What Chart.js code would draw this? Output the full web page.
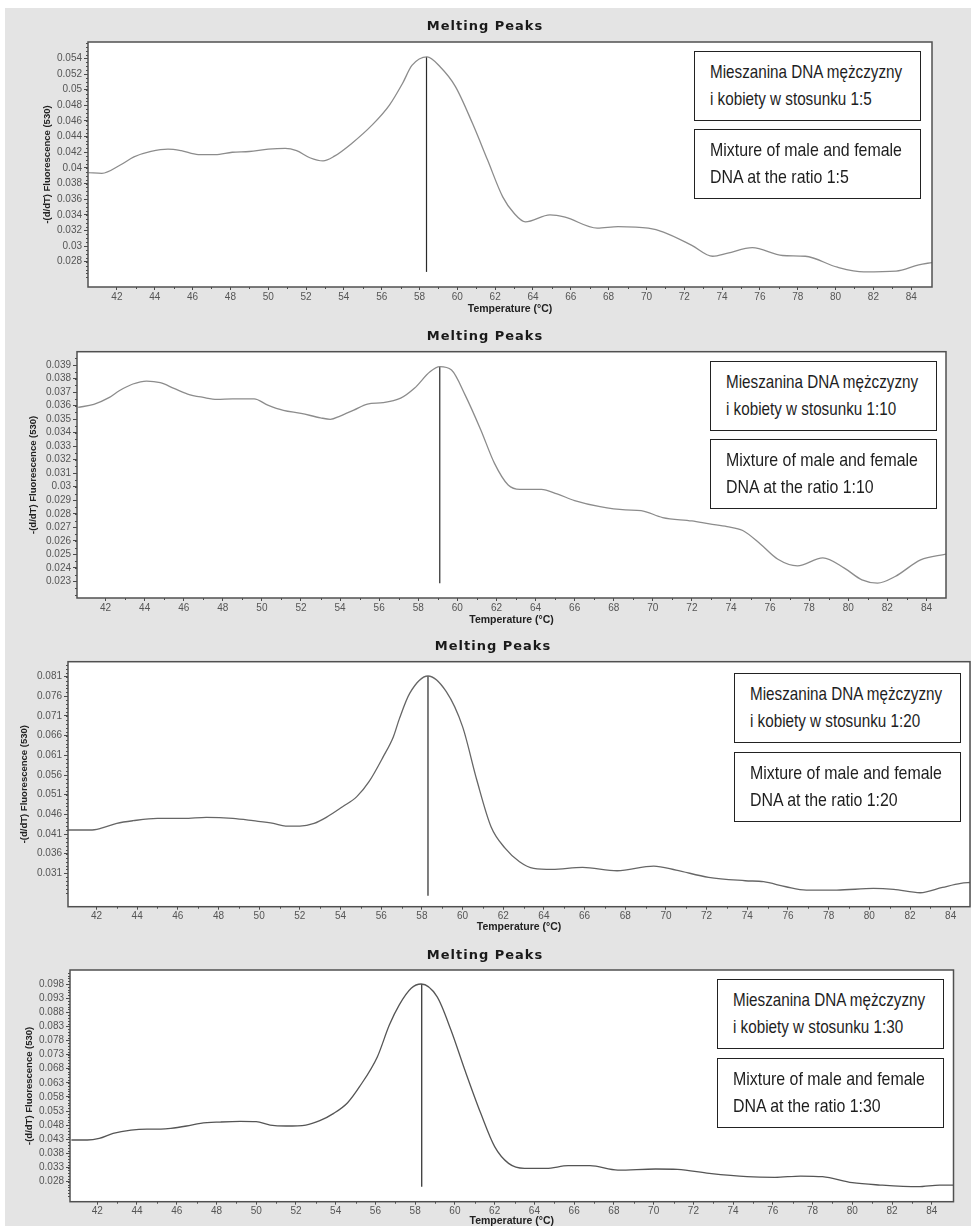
<!DOCTYPE html>
<html>
<head>
<meta charset="utf-8">
<script src="https://cdn.jsdelivr.net/npm/chart.js@4.4.1/dist/chart.umd.min.js"></script>
<style>
body { margin: 0; background: #fff; }
#page { position: relative; width: 971px; height: 1226px; overflow: hidden; }
#bg { position: absolute; left: 5px; top: 8px; right: 0; bottom: 0; background: #e4e4e4; }
canvas { position: absolute; left: 0; }
.note {
    position: absolute; width: 227px; height: 70px; box-sizing: border-box;
    border: 1.5px solid #222; background: #fff; color: #1e1e1e;
    font-family: "Liberation Sans", sans-serif;
    font-size: 18.5px; line-height: 26.7px; padding: 7px 0 0 15px; white-space: nowrap;
}
.note span { display: inline-block; transform-origin: 0 0; }
</style>
</head>
<body>
<div id="page">
  <div id="bg"></div>
  <canvas id="c1" width="971" height="318" style="top:0px"></canvas>
  <canvas id="c2" width="971" height="310" style="top:318px"></canvas>
  <canvas id="c3" width="971" height="310" style="top:628px"></canvas>
  <canvas id="c4" width="971" height="288" style="top:938px"></canvas>

  <div class="note" style="left:694px;top:51px"><span>Mieszanina DNA mężczyzny<br>i kobiety w stosunku 1:5</span></div>
  <div class="note" style="left:694px;top:129px"><span>Mixture of male and female<br>DNA at the ratio 1:5</span></div>
  <div class="note" style="left:710px;top:361px"><span>Mieszanina DNA mężczyzny<br>i kobiety w stosunku 1:10</span></div>
  <div class="note" style="left:710px;top:439px"><span>Mixture of male and female<br>DNA at the ratio 1:10</span></div>
  <div class="note" style="left:734px;top:673px"><span>Mieszanina DNA mężczyzny<br>i kobiety w stosunku 1:20</span></div>
  <div class="note" style="left:734px;top:752px"><span>Mixture of male and female<br>DNA at the ratio 1:20</span></div>
  <div class="note" style="left:717px;top:979px"><span>Mieszanina DNA mężczyzny<br>i kobiety w stosunku 1:30</span></div>
  <div class="note" style="left:717px;top:1058px"><span>Mixture of male and female<br>DNA at the ratio 1:30</span></div>
</div>
<script>
// shared x ticks (temperature)
const xTicks = [42, 44, 46, 48, 50, 52, 54, 56, 58, 60, 62, 64, 66, 68, 70, 72, 74, 76, 78, 80, 82, 84];

// panel 1 - ratio 1:5
const temps1 = [40.5, 41.2, 42.2, 42.9, 43.8, 44.7, 45.4, 46.3, 47.2, 48.1, 49.0, 50.0, 50.9, 51.5, 52.2, 52.9, 53.5, 54.4, 55.5, 56.4,
    57.1, 57.6, 58.4, 59.1, 59.9, 60.8, 61.6, 62.4, 63.0, 63.6, 64.9, 65.7, 67.4, 68.5, 70.1, 70.9, 72.4, 73.5, 74.3, 75.6,
    77.2, 78.4, 80.1, 81.5, 83.2, 84.4, 85.1];
const fluor1 = [0.0394, 0.0393, 0.0404, 0.0414, 0.0421, 0.0424, 0.0422, 0.0417, 0.0417, 0.0420, 0.0421, 0.0424, 0.0425, 0.0422, 0.0413, 0.0409, 0.0415, 0.0431, 0.0455, 0.0480,
    0.0508, 0.0531, 0.0542, 0.0529, 0.0504, 0.0457, 0.0410, 0.0363, 0.0342, 0.0331, 0.0340, 0.0337, 0.0323, 0.0325, 0.0323, 0.0318, 0.0301, 0.0287, 0.0291, 0.0298,
    0.0288, 0.0287, 0.0273, 0.0267, 0.0268, 0.0276, 0.0279];
const peak1 = [58.37, 0.0267, 0.0542]; // temp, line bottom, line top
const yTicks1 = [0.028, 0.030, 0.032, 0.034, 0.036, 0.038, 0.040, 0.042, 0.044, 0.046, 0.048, 0.050, 0.052, 0.054];

// panel 2 - ratio 1:10
const temps2 = [40.6, 41.4, 42.2, 42.7, 43.4, 44.1, 44.8, 45.5, 46.2, 47.0, 47.7, 48.5, 49.6, 50.3, 51.1, 52.0, 53.0, 53.5, 54.0, 54.7,
    55.4, 56.2, 57.1, 57.8, 58.6, 59.1, 59.7, 60.4, 61.2, 61.9, 62.6, 63.2, 64.3, 65.1, 66.0, 67.3, 68.6, 69.4, 70.5, 72.0,
    72.9, 73.8, 74.6, 75.5, 76.4, 77.4, 78.7, 79.8, 80.7, 81.5, 82.4, 83.7, 85.0];
const fluor2 = [0.03587, 0.0361, 0.03661, 0.0371, 0.0376, 0.03782, 0.0377, 0.03728, 0.03686, 0.03661, 0.03646, 0.0365, 0.0365, 0.03604, 0.03565, 0.03543, 0.0351, 0.03499, 0.03523, 0.03567,
    0.03612, 0.03622, 0.03655, 0.03728, 0.0385, 0.03888, 0.03863, 0.03678, 0.0342, 0.03173, 0.03013, 0.02981, 0.02981, 0.02947, 0.02898, 0.02853, 0.02829, 0.02824, 0.02772, 0.02747,
    0.02725, 0.02705, 0.02676, 0.02577, 0.02464, 0.02415, 0.02474, 0.02398, 0.02311, 0.02287, 0.02336, 0.02459, 0.02501];
const peak2 = [59.1, 0.02287, 0.03888];
const yTicks2 = [0.023, 0.024, 0.025, 0.026, 0.027, 0.028, 0.029, 0.030, 0.031, 0.032, 0.033, 0.034, 0.035, 0.036, 0.037, 0.038, 0.039];

// panel 3 - ratio 1:20
const temps3 = [40.6, 41.7, 42.2, 43.0, 43.8, 45.0, 46.3, 47.4, 48.7, 49.7, 50.7, 51.3, 52.0, 52.7, 53.3, 54.1, 54.8, 55.4, 56.1, 56.6,
    56.9, 57.4, 58.3, 59.2, 60.0, 60.7, 61.4, 62.1, 62.8, 63.5, 64.4, 65.9, 67.6, 69.4, 70.5, 72.1, 73.9, 74.8, 75.9, 76.9,
    78.4, 80.2, 81.2, 82.5, 83.6, 84.5, 85.0];
const fluor3 = [0.04202, 0.04202, 0.04244, 0.04371, 0.04439, 0.04498, 0.04498, 0.04524, 0.04498, 0.04439, 0.04371, 0.04303, 0.04303, 0.04371, 0.04524, 0.04795, 0.0505, 0.05431, 0.06066, 0.06575,
    0.0704, 0.07676, 0.08117, 0.07719, 0.06829, 0.05473, 0.04286, 0.03736, 0.03396, 0.03227, 0.03201, 0.03252, 0.03167, 0.03286, 0.03184, 0.02998, 0.02913, 0.02888, 0.0276, 0.02676,
    0.02676, 0.02718, 0.02693, 0.02608, 0.02744, 0.02845, 0.0287];
const peak3 = [58.3, 0.02534, 0.08117];
const yTicks3 = [0.031, 0.036, 0.041, 0.046, 0.051, 0.056, 0.061, 0.066, 0.071, 0.076, 0.081];

// panel 4 - ratio 1:30
const temps4 = [40.7, 41.5, 42.1, 42.8, 43.7, 44.5, 45.2, 45.7, 46.5, 47.2, 48.2, 49.2, 50.0, 50.7, 51.5, 52.5, 53.2, 53.9, 54.6, 55.2,
    56.1, 56.7, 57.2, 57.8, 58.3, 59.1, 59.8, 60.5, 61.3, 62.0, 62.7, 63.5, 64.6, 65.7, 66.8, 68.2, 70.1, 71.2, 72.8, 74.7,
    76.1, 77.4, 78.5, 80.0, 81.4, 83.3, 84.4, 85.1];
const fluor4 = [0.04276, 0.04276, 0.04335, 0.04512, 0.0463, 0.04665, 0.04665, 0.04689, 0.04772, 0.04866, 0.04913, 0.04937, 0.04925, 0.04807, 0.04772, 0.04807, 0.0496, 0.0522, 0.05598, 0.06164,
    0.07227, 0.08348, 0.0906, 0.09647, 0.098, 0.09351, 0.08171, 0.06754, 0.0522, 0.0404, 0.03449, 0.03272, 0.03272, 0.03367, 0.03367, 0.03213, 0.03249, 0.03237, 0.03095, 0.02977,
    0.02954, 0.03001, 0.02977, 0.02765, 0.02682, 0.02623, 0.02682, 0.02682];
const peak4 = [58.33, 0.02623, 0.098];
const yTicks4 = [0.028, 0.033, 0.038, 0.043, 0.048, 0.053, 0.058, 0.063, 0.068, 0.073, 0.078, 0.083, 0.088, 0.093, 0.098];

// white plot box, frame, minor ticks and the "Melting Peaks" heading
const framePlugin = {
    id: 'frame',
    beforeDraw(chart) {
        const a = chart.chartArea, ctx = chart.ctx;
        ctx.save();
        ctx.fillStyle = '#fff';
        ctx.fillRect(a.left, a.top, a.right - a.left, a.bottom - a.top);
        ctx.restore();
    },
    afterDraw(chart, args, opts) {
        const a = chart.chartArea, ctx = chart.ctx;
        const xs = chart.scales.x, ys = chart.scales.y;
        ctx.save();
        ctx.strokeStyle = '#4a4a4a';
        ctx.lineWidth = 1;
        // minor ticks on y
        const yt = opts.yTicks, step = (yt[1] - yt[0]) / opts.yMinor;
        ctx.beginPath();
        for (let v = yt[0] - step * opts.yMinor; v <= ys.max; v += step) {
            if (v < ys.min) continue;
            const py = Math.round(ys.getPixelForValue(v)) + 0.5;
            ctx.moveTo(a.left - 2, py);
            ctx.lineTo(a.left, py);
        }
        // minor ticks on x (half way)
        for (let i = 0; i < xTicks.length - 1; i++) {
            const px = Math.round(xs.getPixelForValue((xTicks[i] + xTicks[i + 1]) / 2)) + 0.5;
            ctx.moveTo(px, a.bottom);
            ctx.lineTo(px, a.bottom + 2);
        }
        ctx.stroke();
        // frame
        ctx.strokeStyle = '#505050';
        ctx.lineWidth = 1.5;
        ctx.strokeRect(a.left, a.top, a.right - a.left, a.bottom - a.top);
        // heading
        ctx.fillStyle = '#1a1a1a';
        ctx.font = 'bold 13px "DejaVu Sans"';
        ctx.letterSpacing = '1px';
        ctx.textAlign = 'center';
        ctx.textBaseline = 'middle';
        ctx.fillText('Melting Peaks', opts.titleX, opts.titleY);
        ctx.restore();
    }
};

function tickLabel(v) {
    return String(Number(v.toFixed(3)));
}

function drawPanel(id, temps, fluor, peak, yTicks, p) {
    new Chart(document.getElementById(id), {
        type: 'line',
        data: {
            datasets: [
                {
                    data: temps.map((t, i) => ({ x: t, y: fluor[i] })),
                    borderColor: p.color, borderWidth: 1.3, pointRadius: 0,
                    cubicInterpolationMode: 'monotone', fill: false
                },
                {
                    data: [{ x: peak[0], y: peak[1] }, { x: peak[0], y: peak[2] }],
                    borderColor: '#2a2a2a', borderWidth: 1.2, pointRadius: 0
                }
            ]
        },
        options: {
            responsive: false,
            animation: false,
            events: [],
            layout: { padding: { top: p.top, right: 971 - p.right, left: 0, bottom: 0 } },
            plugins: {
                legend: { display: false },
                tooltip: { enabled: false },
                frame: { yTicks: yTicks, yMinor: p.yMinor, titleX: p.titleX, titleY: p.titleY }
            },
            scales: {
                x: {
                    type: 'linear', min: p.xMin, max: p.xMax,
                    afterBuildTicks: s => { s.ticks = xTicks.map(v => ({ value: v })); },
                    afterFit: s => { s.height = p.height - p.bottom; },
                    grid: { drawOnChartArea: false, tickLength: 3, color: '#4a4a4a' },
                    border: { display: false },
                    ticks: { padding: 1, color: '#555', autoSkip: false, maxRotation: 0,
                             font: { family: 'Liberation Sans', size: 10 } },
                    title: { display: true, text: 'Temperature (°C)', color: '#222',
                             font: { family: 'Liberation Sans', size: 10.5, weight: 'bold', lineHeight: 1 },
                             padding: { top: 0, bottom: p.xTitlePad } }
                },
                y: {
                    type: 'linear', min: p.yMin, max: p.yMax,
                    afterBuildTicks: s => { s.ticks = yTicks.map(v => ({ value: v })); },
                    afterFit: s => { s.width = p.left; },
                    grid: { drawOnChartArea: false, tickLength: 4, color: '#4a4a4a' },
                    border: { display: false },
                    ticks: { padding: 2, color: '#555', autoSkip: false, callback: tickLabel,
                             font: { family: 'Liberation Sans', size: 10 } },
                    title: { display: true, text: '-(d/dT) Fluorescence (530)', color: '#222',
                             font: { family: 'Liberation Sans', size: 9.5, weight: 'bold', lineHeight: 1 },
                             padding: { top: p.yTitleX - 4.75, bottom: 0 } }
                }
            }
        },
        plugins: [framePlugin]
    });
}

drawPanel('c1', temps1, fluor1, peak1, yTicks1, {
    height: 318, left: 88, top: 42, right: 932, bottom: 287,
    xMin: 40.47, xMax: 85.1, yMin: 0.02477, yMax: 0.0561, yMinor: 4,
    titleX: 485, titleY: 27, xTitlePad: 3.75, yTitleX: 47, color: '#8c8c8c'
});
drawPanel('c2', temps2, fluor2, peak2, yTicks2, {
    height: 310, left: 77, top: 33.7, right: 946, bottom: 280,
    xMin: 40.54, xMax: 85.0, yMin: 0.02177, yMax: 0.03999, yMinor: 2,
    titleX: 485, titleY: 18.7, xTitlePad: 2.75, yTitleX: 33, color: '#8c8c8c'
});
drawPanel('c3', temps3, fluor3, peak3, yTicks3, {
    height: 310, left: 68, top: 33.7, right: 970, bottom: 278.7,
    xMin: 40.6, xMax: 84.95, yMin: 0.02253, yMax: 0.0848, yMinor: 5,
    titleX: 493, titleY: 18.7, xTitlePad: 5.75, yTitleX: 24, color: '#666'
});
drawPanel('c4', temps4, fluor4, peak4, yTicks4, {
    height: 288, left: 70, top: 32, right: 953.5, bottom: 263.7,
    xMin: 40.63, xMax: 85.09, yMin: 0.02092, yMax: 0.10296, yMinor: 5,
    titleX: 485, titleY: 17.7, xTitlePad: 0, yTitleX: 29, color: '#555'
});

// squeeze the note text to a condensed look (reference lines are ~192px wide)
document.querySelectorAll('.note span').forEach(sp => {
    const w = sp.getBoundingClientRect().width;
    sp.style.transform = 'scaleX(' + (192 / w).toFixed(3) + ')';
});
</script>
</body>
</html>
